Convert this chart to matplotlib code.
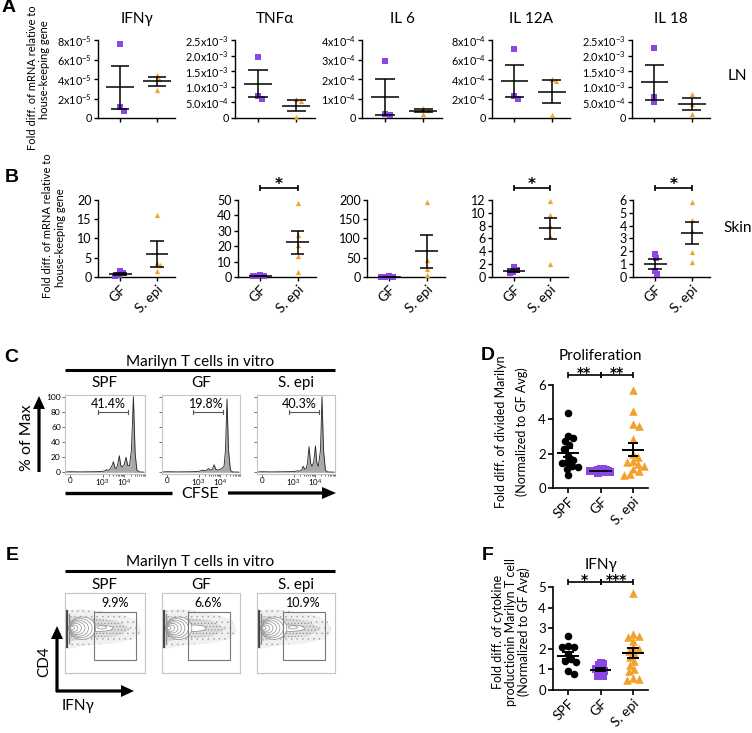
import numpy as np
import matplotlib
matplotlib.use('Agg')
import matplotlib.pyplot as plt
from matplotlib.patches import Polygon, Ellipse, Rectangle, FancyArrow
import matplotlib.transforms as mtransforms

plt.rcParams['font.family'] = ['Lato', 'DejaVu Sans']
plt.rcParams['mathtext.fontset'] = 'custom'
plt.rcParams['mathtext.rm'] = 'Lato'
plt.rcParams['mathtext.it'] = 'Lato:italic'
plt.rcParams['mathtext.bf'] = 'Lato:bold'
plt.rcParams['mathtext.default'] = 'regular'
plt.rcParams['hatch.linewidth'] = 0.35

# ------------------------------------------------------------------ data
AB_GROUPS = ['GF', 'S. epi']
A_TITLES = ['IFNγ', 'TNFα', 'IL 6', 'IL 12A', 'IL 18']
A_GF = [[7.55e-5, 1.1e-5, 0.76e-5],
        [1.97e-3, 0.71e-3, 0.61e-3],
        [2.94e-4, 0.18e-4, 0.15e-4],
        [7.1e-4, 2.3e-4, 2.0e-4],
        [2.25e-3, 0.68e-3, 0.50e-3]]
A_SEPI = [[4.45e-5, 4.0e-5, 2.85e-5],
          [0.60e-3, 0.55e-3, 0.03e-3],
          [0.50e-4, 0.40e-4, 0.22e-4],
          [4.0e-4, 3.8e-4, 0.3e-4],
          [0.78e-3, 0.45e-3, 0.12e-3]]
A_TICKS = [[0, 2e-5, 4e-5, 6e-5, 8e-5],
           [0, 5e-4, 1.0e-3, 1.5e-3, 2.0e-3, 2.5e-3],
           [0, 1e-4, 2e-4, 3e-4, 4e-4],
           [0, 2e-4, 4e-4, 6e-4, 8e-4],
           [0, 5e-4, 1.0e-3, 1.5e-3, 2.0e-3, 2.5e-3]]
A_TICKLABELS = [['0', '2x10$^{-5}$', '4x10$^{-5}$', '6x10$^{-5}$', '8x10$^{-5}$'],
                ['0', '5.0x10$^{-4}$', '1.0x10$^{-3}$', '1.5x10$^{-3}$', '2.0x10$^{-3}$', '2.5x10$^{-3}$'],
                ['0', '1x10$^{-4}$', '2x10$^{-4}$', '3x10$^{-4}$', '4x10$^{-4}$'],
                ['0', '2x10$^{-4}$', '4x10$^{-4}$', '6x10$^{-4}$', '8x10$^{-4}$'],
                ['0', '5.0x10$^{-4}$', '1.0x10$^{-3}$', '1.5x10$^{-3}$', '2.0x10$^{-3}$', '2.5x10$^{-3}$']]

B_GF = [[1.6, 1.0, 0.6, 0.3],
        [1.2, 0.9, 0.6, 0.4],
        [1.5, 1.0, 0.8, 0.5],
        [1.5, 1.1, 0.8, 0.6],
        [1.8, 1.5, 0.5, 0.25]]
B_SEPI = [[16.0, 3.6, 3.0, 1.5],
          [48.0, 27.0, 21.0, 13.5, 3.0],
          [195.0, 45.0, 20.0, 5.0],
          [11.9, 9.6, 8.0, 6.4, 2.1],
          [5.85, 4.45, 3.6, 1.95, 1.2]]
B_TICKS = [[0, 5, 10, 15, 20],
           [0, 10, 20, 30, 40, 50],
           [0, 50, 100, 150, 200],
           [0, 2, 4, 6, 8, 10, 12],
           [0, 1, 2, 3, 4, 5, 6]]
B_SIG = ['', '*', '', '*', '*']

# CFSE histograms (x in decades of fluorescence, y in % of max)
C_GROUPS = ['SPF', 'GF', 'S. epi']
C_PCT = ['41.4%', '19.8%', '40.3%']
C_GATE = [(2.80, 4.19), (2.73, 4.16), (2.77, 4.19)]
C_HX = [[1.27, 1.5, 2.0, 2.6, 2.95, 3.1, 3.18, 3.24, 3.32, 3.42, 3.50, 3.57, 3.64, 3.70, 3.77,
         3.84, 3.91, 3.99, 4.08, 4.16, 4.24, 4.33, 4.42, 4.50, 4.58, 4.7, 4.91],
        [1.27, 1.5, 2.0, 2.6, 2.95, 3.1, 3.19, 3.28, 3.38, 3.47, 3.56, 3.65, 3.73, 3.81, 3.9,
         4.0, 4.1, 4.2, 4.27, 4.34, 4.41, 4.5, 4.6, 4.91],
        [1.27, 1.5, 2.0, 2.6, 2.95, 3.1, 3.2, 3.3, 3.38, 3.45, 3.53, 3.6, 3.66, 3.73, 3.8,
         3.87, 3.95, 4.03, 4.1, 4.17, 4.27, 4.34, 4.41, 4.5, 4.6, 4.91]]
C_HY = [[0.5, 0.8, 0.6, 0.8, 1.0, 2.0, 3.5, 2.5, 3.5, 8, 14, 6, 5, 11, 22,
         9, 7, 10, 20, 9, 9, 30, 100, 25, 3, 0.5, 0.3],
        [0.5, 0.8, 0.6, 0.8, 1.0, 2.0, 3.0, 2.0, 3.0, 5.0, 3.0, 4.0, 10, 4.0, 3.0,
         4.0, 5.0, 8.0, 30, 97, 30, 3.0, 0.5, 0.3],
        [0.5, 0.8, 0.6, 0.8, 1.0, 1.5, 2.0, 1.5, 3.0, 8.0, 4.0, 5.0, 14, 34, 12,
         8, 14, 35, 12, 8, 30, 100, 30, 3, 0.5, 0.3]]

D_GROUPS = ['SPF', 'GF', 'S. epi']
D_SPF = [4.35, 3.05, 2.9, 2.75, 2.5, 2.3, 1.85, 1.65, 1.5, 1.45, 1.3, 1.2, 1.1, 0.75]
D_GF = [1.1, 1.08, 1.05, 1.03, 1.0, 1.0, 0.98, 0.97, 0.95, 0.93, 0.92, 0.9]
D_SEPI = [5.7, 4.5, 3.7, 3.6, 2.85, 1.8, 2.0, 1.6, 1.5, 1.4, 1.3, 1.1, 1.0, 0.8, 0.75]
D_SIG = ['**', '**']

E_PCT = ['9.9%', '6.6%', '10.9%']

F_SPF = [2.6, 2.15, 2.1, 2.1, 1.75, 1.4, 1.35, 0.9, 0.8, 1.5]
F_GF = [1.3, 1.25, 1.2, 1.1, 1.05, 1.0, 1.0, 0.95, 0.9, 0.75, 0.7, 0.7]
F_SEPI = [4.7, 2.7, 2.6, 2.55, 2.4, 2.1, 2.0, 1.9, 1.8, 1.6, 1.4, 1.2, 1.0, 0.9, 0.6, 0.55, 0.5]
F_SIG = ['*', '***']

PURPLE = '#8C46E6'
ORANGE = '#F4A12B'

# ------------------------------------------------------------------ helpers
W, H = 752, 733
fig = plt.figure(figsize=(W / 100, H / 100), dpi=100)


def rect(x0, y0, x1, y1):
    return [x0 / W, 1 - y1 / H, (x1 - x0) / W, (y1 - y0) / H]


def swarm_offsets(vals, ypx, xpx, d):
    vals = np.asarray(vals, float)
    order = np.argsort(-vals)
    placed = []
    offs = np.zeros(len(vals))
    for i in order:
        y = vals[i] * ypx
        cands = [0.0]
        for (a, b) in placed:
            dy = y - b
            if abs(dy) < d:
                dx = np.sqrt(d * d - dy * dy)
                cands += [a + dx, a - dx]
        cands.sort(key=abs)
        for c in cands:
            if all((c - a) ** 2 + (y - b) ** 2 >= d * d * 0.97 for a, b in placed):
                offs[i] = c
                placed.append((c, y))
                break
    return offs / xpx


def mean_sem(ax, x, vals, hw, cw, lw):
    v = np.asarray(vals, float)
    m = v.mean()
    s = v.std(ddof=1) / np.sqrt(len(v))
    kw = dict(color='k', lw=lw, zorder=5, solid_capstyle='butt', clip_on=False)
    ax.plot([x - hw, x + hw], [m, m], **kw)
    ax.plot([x, x], [m - s, m + s], **kw)
    ax.plot([x - cw, x + cw], [m + s, m + s], **kw)
    ax.plot([x - cw, x + cw], [m - s, m - s], **kw)


def style_axes(ax, lw=1.0, ticklen=3.0):
    for s in ['top', 'right']:
        ax.spines[s].set_visible(False)
    for s in ['left', 'bottom']:
        ax.spines[s].set_linewidth(lw)
    ax.tick_params(direction='out', length=ticklen, width=lw, pad=1.5)


def bracket(ax, x0, x1, ax_h, dy_px, label, fs, lw=1.2, cap_px=3, star_dy=-2):
    tr = mtransforms.blended_transform_factory(ax.transData, ax.transAxes)
    yb = 1 + dy_px / ax_h
    cap = cap_px / ax_h
    kw = dict(transform=tr, color='k', lw=lw, clip_on=False, solid_capstyle='butt')
    ax.plot([x0, x1], [yb, yb], **kw)
    for x in (x0, x1):
        ax.plot([x, x], [yb - cap, yb + cap], **kw)
    ax.text((x0 + x1) / 2, yb + star_dy / ax_h, label, transform=tr, ha='center',
            va='baseline', fontsize=fs, fontweight='bold', family='DejaVu Sans')


# ------------------------------------------------------------------ panel A
A_X = [(98, 175), (235, 315), (362, 442), (492, 570), (632, 710)]
A_Y = (40, 118)
XL = (-0.6, 1.49)
for i in range(5):
    x0, x1 = A_X[i]
    ax = fig.add_axes(rect(x0, A_Y[0], x1, A_Y[1]))
    ymax = A_TICKS[i][-1]
    ax.set_ylim(0, ymax)
    ax.set_xlim(*XL)
    ypx = (A_Y[1] - A_Y[0]) / ymax
    xpx = (x1 - x0) / (XL[1] - XL[0])
    for j, (vals, col, mk) in enumerate([(A_GF[i], PURPLE, 's'), (A_SEPI[i], ORANGE, '^')]):
        off = swarm_offsets(vals, ypx, xpx, 5)
        ax.scatter(j + off, vals, s=14, marker=mk, color=col, lw=0, zorder=3, clip_on=False)
        mean_sem(ax, j, vals, 0.37, 0.25, 1.1)
    ax.set_yticks(A_TICKS[i])
    ax.set_yticklabels(A_TICKLABELS[i], fontsize=7.8)
    ax.set_xticks([0, 1])
    ax.set_xticklabels([])
    style_axes(ax)
    ax.set_title(A_TITLES[i], fontsize=11, pad=12)

# ------------------------------------------------------------------ panel B
B_X = [(98, 175), (238, 316), (367, 445), (492, 568), (633, 710)]
B_Y = (200, 277)
for i in range(5):
    x0, x1 = B_X[i]
    ax = fig.add_axes(rect(x0, B_Y[0], x1, B_Y[1]))
    ymax = B_TICKS[i][-1]
    ax.set_ylim(0, ymax)
    ax.set_xlim(*XL)
    ypx = (B_Y[1] - B_Y[0]) / ymax
    xpx = (x1 - x0) / (XL[1] - XL[0])
    for j, (vals, col, mk) in enumerate([(B_GF[i], PURPLE, 's'), (B_SEPI[i], ORANGE, '^')]):
        off = swarm_offsets(vals, ypx, xpx, 4)
        ax.scatter(j + off, vals, s=14, marker=mk, color=col, lw=0, zorder=3, clip_on=False)
        mean_sem(ax, j, vals, 0.31, 0.18, 1.1)
    ax.set_yticks(B_TICKS[i])
    ax.set_yticklabels([str(t) for t in B_TICKS[i]], fontsize=9)
    ax.set_xticks([0, 1])
    ax.set_xticklabels(AB_GROUPS, fontsize=10, rotation=45, ha='right',
                       rotation_mode='anchor')
    style_axes(ax)
    if B_SIG[i]:
        bracket(ax, 0, 1, B_Y[1] - B_Y[0], 12, B_SIG[i], 11, star_dy=-1)

# ------------------------------------------------------------------ panel C
C_BOX_X = [(65, 145), (162, 240), (257, 335)]
C_BOX_Y = (395, 474)
C_PCT_X = [3.25, 3.37, 3.27]
minor = [d + np.log10(k) for d in (3, 4) for k in range(2, 10)]
for k in range(3):
    ax = fig.add_axes(rect(C_BOX_X[k][0], C_BOX_Y[0], C_BOX_X[k][1], C_BOX_Y[1]))
    ax.fill_between(C_HX[k], C_HY[k], 0, color='#a9a9a9', lw=0)
    ax.plot(C_HX[k], C_HY[k], color='#222222', lw=0.6)
    ax.set_xlim(1.27, 4.91)
    ax.set_ylim(-2.2, 102.2)
    for s in ax.spines.values():
        s.set_color('#c4c4c4')
        s.set_linewidth(0.8)
    ax.set_xticks([1.5, 3, 4])
    ax.set_xticklabels(['0', '10$^3$', '10$^4$'], fontsize=5.8)
    ax.set_xticks(minor, minor=True)
    ax.tick_params(axis='x', which='both', length=2, width=0.6, color='#555555', pad=0.5)
    ax.tick_params(axis='x', which='minor', length=1.2)
    ax.set_yticks([0, 20, 40, 60, 80, 100])
    if k == 0:
        ax.set_yticklabels(['0', '20', '40', '60', '80', '100'], fontsize=6)
    else:
        ax.set_yticklabels([])
    ax.tick_params(axis='y', length=2, width=0.6, color='#555555', pad=1)
    g0, g1 = C_GATE[k]
    ax.plot([g0, g1], [80, 80], color='#555555', lw=0.8)
    for g in (g0, g1):
        ax.plot([g, g], [77.5, 82.5], color='#555555', lw=0.8)
    ax.text(C_PCT_X[k], 90, C_PCT[k], ha='center', va='center', fontsize=9)

# ------------------------------------------------------------------ panel E
E_BOX_X = [(65, 145), (162, 240), (257, 335)]
E_BOX_Y = (593, 673)
E_GATE_X = [(0.3625, 0.8875), (0.3375, 0.875), (0.3375, 0.875)]
E_PCT_X = [0.625, 0.59, 0.59]
for k in range(3):
    ax = fig.add_axes(rect(E_BOX_X[k][0], E_BOX_Y[0], E_BOX_X[k][1], E_BOX_Y[1]))
    ax.set_xlim(0, 1)
    ax.set_ylim(0, 1)
    ax.set_xticks([])
    ax.set_yticks([])
    for s in ax.spines.values():
        s.set_color('#c4c4c4')
        s.set_linewidth(0.8)
    spread = [1.0, 0.8, 1.05][k]
    outer = Polygon([(0.04, 0.30), (0.3, 0.35), (0.6, 0.37), (0.85, 0.42), (0.96, 0.52),
                     (0.9, 0.66), (0.7, 0.73), (0.45, 0.77), (0.2, 0.80), (0.04, 0.78)],
                    closed=True, facecolor='#f0f0f0', edgecolor='#a0a0a0', lw=0, hatch='...')
    inner = Polygon([(0.06, 0.40), (0.35, 0.44), (0.65, 0.46), (0.82, 0.55), (0.65, 0.65),
                     (0.35, 0.69), (0.06, 0.71)],
                    closed=True, facecolor='#dcdcdc', edgecolor='#808080', lw=0, hatch='.....')
    ax.add_patch(outer)
    ax.add_patch(inner)
    ax.plot([0.03, 0.03], [0.33, 0.78], color='#444444', lw=1.6)
    ax.plot([0.05, 0.05], [0.38, 0.74], color='#888888', lw=1.0)
    ax.add_patch(Ellipse((0.42, 0.56), 0.36 * spread, 0.08, facecolor='white',
                         edgecolor='#8a8a8a', lw=0.5, zorder=2.9))
    for r in range(6, -1, -1):
        hw = 0.025 + 0.024 * r
        hh = 0.02 + 0.02 * r
        ax.add_patch(Ellipse((0.07 + 0.85 * hw, 0.56), 2 * hw, 2 * hh, facecolor='white',
                             edgecolor='#8a8a8a', lw=0.5, zorder=3))
    if k != 1:
        ax.add_patch(Ellipse((0.46, 0.57), 0.12, 0.04, facecolor='white',
                             edgecolor='#8a8a8a', lw=0.5, zorder=3.1))
    gx0, gx1 = E_GATE_X[k]
    ax.add_patch(Rectangle((gx0, 0.1625), gx1 - gx0, 0.6, facecolor='none',
                           edgecolor='#777777', lw=0.8, zorder=4))
    ax.text(E_PCT_X[k], 0.87, E_PCT[k], ha='center', va='center', fontsize=9)

# ------------------------------------------------------------------ panels D and F
D_POS_X = (553, 648)
def dfpanel(y0, y1, datas, ymax, ticks, sigs, hw, cw, dy_px):
    ax = fig.add_axes(rect(D_POS_X[0], y0, D_POS_X[1], y1))
    xl = (-0.46, 2.46)
    ax.set_xlim(*xl)
    ax.set_ylim(0, ymax)
    ypx = (y1 - y0) / ymax
    xpx = (D_POS_X[1] - D_POS_X[0]) / (xl[1] - xl[0])
    styles = [('k', 'o', 30, 6.0), (PURPLE, 's', 30, 2.6), (ORANGE, '^', 38, 6.0)]
    for j, vals in enumerate(datas):
        col, mk, sz, dd = styles[j]
        off = swarm_offsets(vals, ypx, xpx, dd)
        ax.scatter(j + off, vals, s=sz, marker=mk, color=col, lw=0, zorder=3, clip_on=False)
        mean_sem(ax, j, vals, hw, cw, 1.4)
    ax.set_yticks(ticks)
    ax.set_yticklabels([str(t) for t in ticks], fontsize=9.5)
    ax.set_xticks([0, 1, 2])
    ax.set_xticklabels(D_GROUPS, fontsize=10, rotation=45, ha='right', rotation_mode='anchor')
    style_axes(ax, lw=1.2, ticklen=3.5)
    bracket(ax, 0, 1, y1 - y0, dy_px, sigs[0], 10, star_dy=-2)
    bracket(ax, 1, 2, y1 - y0, dy_px, sigs[1], 10, star_dy=-2)
    return ax

axD = dfpanel(385, 488, [D_SPF, D_GF, D_SEPI], 6, [0, 2, 4, 6], D_SIG, 0.34, 0.15, 10)
axD.set_title('Proliferation', fontsize=11, pad=18)
axF = dfpanel(587, 690, [F_SPF, F_GF, F_SEPI], 5, [0, 1, 2, 3, 4, 5], F_SIG, 0.33, 0.18, 5)
axF.set_title('IFNγ', fontsize=11, pad=13)

# ------------------------------------------------------------------ overlay (texts, arrows)
ov = fig.add_axes([0, 0, 1, 1])
ov.set_xlim(0, W)
ov.set_ylim(H, 0)
ov.axis('off')

def T(x, y, s, **kw):
    kw.setdefault('ha', 'center')
    kw.setdefault('va', 'center')
    ov.text(x, y, s, **kw)

for lab, (x, y) in zip('ABCDEF', [(9, 8), (12, 177), (11, 358), (488, 356), (12, 556), (488, 556)]):
    T(x, y, lab, fontsize=14, fontweight='bold', family='Liberation Sans')

T(33, 78, 'Fold diff. of mRNA relative to', rotation=90, fontsize=8)
T(44, 70, 'house-keeping gene', rotation=90, fontsize=8)
T(48, 226, 'Fold diff. of mRNA relative to', rotation=90, fontsize=8)
T(60, 238, 'house-keeping gene', rotation=90, fontsize=8)
T(737, 76, 'LN', fontsize=11)
T(723, 228, 'Skin', fontsize=11, ha='left')

T(501, 432, 'Fold diff. of divided Marilyn', rotation=90, fontsize=9)
T(522, 432, '(Normalized to GF Avg)', rotation=90, fontsize=9)
T(498, 632, 'Fold diff. of cytokine', rotation=90, fontsize=9)
T(511, 632, 'productionin Marilyn T cell', rotation=90, fontsize=9)
T(524, 632, '(Normalized to GF Avg)', rotation=90, fontsize=9)

for (ty, ly, sy) in [(362, 370, 383), (562, 571, 585)]:
    T(200, ty, 'Marilyn T cells in vitro', fontsize=11)
    ov.plot([65, 335], [ly, ly], color='k', lw=2.2, solid_capstyle='butt')
    for name, cx in zip(C_GROUPS, [105, 201, 296]):
        T(cx, sy, name, fontsize=11)

# C axes arrows
ov.add_patch(FancyArrow(39, 472, 0, -76, width=3.2, head_width=12, head_length=13,
                        length_includes_head=True, color='k', lw=0))
T(27, 438, '% of Max', rotation=90, fontsize=11.5)
ov.plot([65, 172], [493, 493], color='k', lw=2.4, solid_capstyle='butt')
ov.add_patch(FancyArrow(228, 493, 108, 0, width=3.2, head_width=12, head_length=14,
                        length_includes_head=True, color='k', lw=0))
T(200, 494, 'CFSE', fontsize=11.5)

# E axes arrows
ov.add_patch(FancyArrow(57, 692, 0, -66, width=3.2, head_width=12, head_length=13,
                        length_includes_head=True, color='k', lw=0))
ov.add_patch(FancyArrow(56, 691, 78, 0, width=3.2, head_width=12, head_length=13,
                        length_includes_head=True, color='k', lw=0))
T(44, 662, 'CD4', rotation=90, fontsize=11)
T(78, 706, 'IFNγ', fontsize=11)

fig.savefig('out.png', dpi=100)
